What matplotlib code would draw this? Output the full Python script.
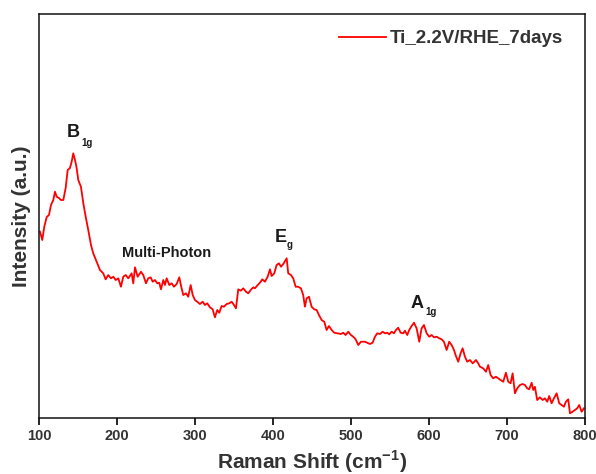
import matplotlib
matplotlib.use("Agg")
import matplotlib.pyplot as plt

# Raman spectrum (intensity in arbitrary units)
raman_shift = [
    101.3, 104.2, 106.8, 109.9, 112.8, 115.4, 118.3, 120.5, 122.7, 125.6,
    128.2, 131.2, 134.2, 136.8, 139.7, 141.9, 144.0, 146.2, 148.3, 150.4,
    153.8, 156.8, 159.9, 163.2, 166.7, 169.6, 174.0, 178.2, 182.4, 185.5,
    188.8, 192.3, 195.3, 198.4, 201.7, 205.1, 208.1, 211.2, 214.5, 218.8,
    220.9, 223.1, 226.5, 230.8, 233.7, 237.2, 240.1, 243.2, 245.8, 248.7,
    251.7, 254.2, 256.4, 259.4, 261.5, 263.7, 267.1, 270.1, 273.1, 276.5,
    279.9, 282.4, 285.0, 288.5, 291.4, 294.5, 297.1, 300.0, 302.9, 306.4,
    309.9, 312.8, 315.8, 319.2, 322.7, 325.6, 328.6, 331.2, 334.2, 337.2,
    340.6, 344.0, 347.1, 350.0, 352.6, 355.5, 358.6, 362.0, 365.4, 368.3,
    371.4, 374.8, 376.9, 380.4, 383.3, 386.3, 389.7, 393.2, 396.2, 398.3,
    401.7, 404.7, 407.7, 410.3, 413.2, 417.6, 419.6, 423.1, 426.0, 429.1,
    432.4, 435.9, 438.8, 441.0, 443.2, 446.2, 449.6, 452.9, 456.0, 459.0,
    462.4, 465.8, 468.8, 471.8, 475.3, 478.6, 482.9, 487.2, 490.1, 493.2,
    496.5, 500.0, 502.9, 506.0, 509.4, 512.8, 517.9, 524.4, 527.8, 530.8,
    533.7, 537.2, 540.6, 543.6, 546.5, 549.1, 552.2, 555.1, 557.7, 560.6,
    563.7, 567.1, 569.2, 572.2, 574.7, 577.8, 580.8, 584.2, 587.6, 590.6,
    593.6, 597.1, 600.4, 603.5, 606.4, 609.9, 613.2, 616.3, 619.2, 622.7,
    626.0, 629.1, 632.1, 634.6, 637.6, 640.6, 643.2, 646.2, 649.1, 652.6,
    656.1, 660.3, 663.2, 665.4, 669.6, 673.1, 676.0, 679.1, 682.4, 685.9,
    688.8, 691.9, 695.3, 698.7, 701.7, 704.7, 707.3, 710.3, 713.2, 716.7,
    720.1, 723.1, 726.0, 728.6, 731.7, 733.7, 735.9, 738.8, 742.3, 745.8,
    748.7, 751.7, 754.2, 757.3, 760.3, 763.7, 767.1, 770.1, 773.1, 775.6,
    778.6, 780.8, 784.2, 787.2, 790.1, 792.7, 795.8, 798.7,
]
intensity = [
    186.3, 178.0, 191.3, 201.0, 203.0, 213.0, 218.0, 226.3, 221.3, 220.0,
    218.0, 218.0, 230.0, 248.0, 250.0, 256.3, 264.7, 258.0, 250.0, 238.0,
    231.3, 215.0, 201.3, 188.0, 173.0, 164.7, 156.3, 148.0, 144.7, 138.7,
    143.0, 139.7, 141.3, 138.0, 139.7, 131.3, 141.3, 143.0, 139.7, 144.7,
    134.7, 150.7, 141.3, 146.3, 143.0, 134.7, 139.7, 140.7, 136.3, 138.0,
    134.7, 135.3, 128.7, 138.0, 133.0, 139.7, 133.0, 134.7, 131.3, 134.0,
    140.7, 131.3, 123.0, 124.7, 121.3, 133.0, 123.0, 118.0, 116.3, 114.0,
    116.3, 113.0, 114.7, 110.7, 108.7, 100.7, 108.0, 105.3, 112.0, 111.3,
    114.0, 114.7, 116.3, 113.0, 109.7, 128.7, 127.3, 129.7, 126.3, 124.7,
    128.0, 130.7, 129.7, 133.0, 135.3, 138.7, 136.3, 141.3, 148.7, 142.0,
    144.7, 153.0, 154.7, 151.3, 154.0, 159.7, 144.7, 143.0, 139.7, 131.3,
    131.3, 129.7, 123.0, 111.3, 119.7, 121.3, 111.3, 108.7, 108.0, 103.0,
    98.0, 96.3, 88.0, 92.0, 88.0, 85.3, 84.7, 84.0, 85.3, 83.0,
    86.3, 83.0, 81.3, 78.7, 73.0, 76.3, 76.3, 74.0, 75.3, 81.3,
    84.7, 84.0, 86.3, 84.7, 85.3, 83.7, 86.3, 84.7, 88.0, 90.3,
    85.3, 84.7, 87.3, 83.0, 88.0, 92.0, 95.3, 89.7, 76.3, 89.7,
    93.0, 84.7, 81.3, 83.0, 80.7, 81.3, 79.7, 78.7, 76.3, 68.0,
    76.3, 73.0, 68.0, 62.0, 56.3, 64.7, 69.7, 61.3, 56.3, 58.0,
    54.7, 58.0, 54.7, 51.3, 49.7, 46.3, 53.0, 43.0, 39.7, 41.3,
    39.7, 38.0, 36.3, 45.3, 36.3, 34.7, 44.7, 24.7, 29.7, 33.0,
    34.0, 33.0, 29.7, 28.7, 35.3, 28.0, 31.3, 18.0, 20.7, 18.0,
    19.7, 16.3, 22.0, 14.7, 19.7, 24.7, 14.7, 13.0, 11.3, 16.3,
    18.7, 4.7, 6.3, 8.0, 9.7, 13.0, 6.3, 9.7,
]
x_ticks = [100, 200, 300, 400, 500, 600, 700, 800]
series_label = "Ti_2.2V/RHE_7days"

plt.rcParams['font.family'] = ['Liberation Sans', 'DejaVu Sans']
plt.rcParams['mathtext.fontset'] = 'custom'
plt.rcParams['mathtext.rm'] = 'Liberation Sans'
plt.rcParams['mathtext.bf'] = 'Liberation Sans:bold'

TXT = '#333333'

fig = plt.figure(figsize=(5.96, 4.74), dpi=100)
ax = fig.add_axes([0.0654, 0.1181, 0.916, 0.8523])

ax.plot(raman_shift, intensity, color='#ff0000', lw=1.3, label=series_label)

ax.set_xlim(100, 800)
ax.set_ylim(0, 404)
ax.set_xticks(x_ticks)
ax.set_yticks([])
ax.tick_params(axis='x', direction='out', length=5, width=1.2, pad=3,
               labelsize=10.5, labelcolor=TXT)
for lab in ax.get_xticklabels():
    lab.set_fontweight('bold')
for sp in ax.spines.values():
    sp.set_linewidth(1.1)
    sp.set_color('#111111')

ax.set_xlabel(r'Raman Shift (cm$^{\mathbf{-1}}$)', fontsize=15, fontweight='bold',
              color=TXT, labelpad=4)
ax.set_ylabel('Intensity (a.u.)', fontsize=15, fontweight='bold', color=TXT,
              labelpad=6)

# peak labels
pk = dict(fontweight='bold', color='#1a1a1a', va='baseline', ha='left')
ax.text(135.9, 281, 'B', fontsize=13, **pk)
ax.text(154.7, 272, '1g', fontsize=7, **pk)
ax.text(402.6, 176, 'E', fontsize=13, **pk)
ax.text(418.0, 170, 'g', fontsize=7, **pk)
ax.text(577.0, 110, 'A', fontsize=13, **pk)
ax.text(594.9, 103, '1g', fontsize=7, **pk)
ax.text(206.4, 161, 'Multi-Photon', fontsize=10.5, **pk)

leg = ax.legend(loc='upper right', bbox_to_anchor=(1.0, 1.013), frameon=False,
                fontsize=13.5, handlelength=2.55, handletextpad=0.2,
                borderaxespad=0.75)
for t in leg.get_texts():
    t.set_fontweight('bold')
    t.set_color(TXT)

fig.savefig('out.png', dpi=100)
